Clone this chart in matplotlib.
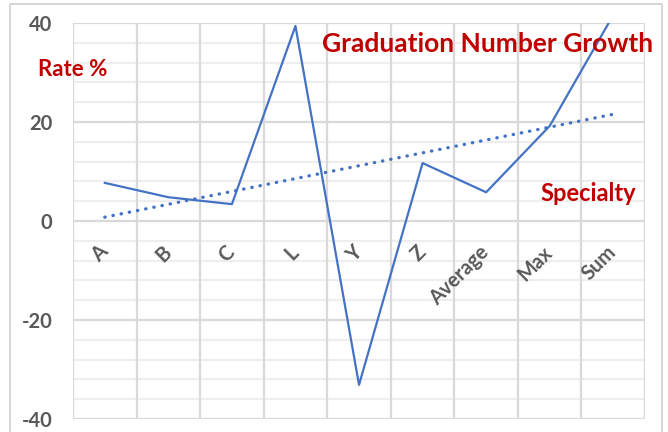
import numpy as np
import matplotlib
matplotlib.use("Agg")
import matplotlib.pyplot as plt
from matplotlib.patches import Rectangle

# rate of change per specialty, last three are summary rows
categories = ["A", "B", "C", "L", "Y", "Z", "Average", "Max", "Sum"]
rates = [7.7, 4.8, 3.4, 39.4, -33.1, 11.7, 5.8, 19.2, 41.6]

y_ticks = [-40, -20, 0, 20, 40]

RED = "#C00000"
BLUE = "#4472C4"
GRAY = "#595959"

plt.rcParams["font.family"] = ["Lato", "DejaVu Sans"]

fig = plt.figure(figsize=(6.68, 4.32), dpi=100)
ax = fig.add_axes([0.1093, 0.0301, 0.8563, 0.9167])

# outer chart-area frame
fig.patches.append(Rectangle((10 / 668, -0.05), 652 / 668, 1 - 4 / 432 + 0.05,
                             transform=fig.transFigure, fill=False,
                             edgecolor="#d0d0d0", linewidth=1.2))

x = np.arange(len(categories))
ax.set_xlim(-0.5, len(categories) - 0.5)
ax.set_ylim(-40, 40)

# gridlines: major every 20, faint minor every 4, vertical at category borders
for v in np.arange(-40, 41, 4):
    if v % 20:
        ax.axhline(v, color="#eeeeee", lw=1.6, zorder=0)
for v in y_ticks:
    ax.axhline(v, color="#d9d9d9", lw=1.6, zorder=1)
for b in np.arange(-0.5, len(categories), 1.0):
    ax.axvline(b, color="#d9d9d9", lw=1.6, zorder=1)

ax.plot(x, rates, color=BLUE, lw=1.6, zorder=3)

# linear trendline over all points
k, c = np.polyfit(x, rates, 1)
ax.plot(x, k * x + c, color=BLUE, lw=2.4, ls=(0, (0.1, 2.4)),
        dash_capstyle="round", zorder=3)

for s in ax.spines.values():
    s.set_visible(False)
ax.set_xticks([])
ax.set_yticks(y_ticks)
ax.set_yticklabels([str(t) for t in y_ticks], fontsize=14.5, color=GRAY,
                   fontweight="bold")
ax.tick_params(axis="y", length=0, pad=15)

for i, lab in enumerate(categories):
    ax.text(i + 0.11, -4.3, lab, rotation=45, ha="right", va="top",
            fontsize=14.5, color=GRAY, fontweight="bold", zorder=4)

fig.text(0.978, 0.898, "Graduation Number Growth", ha="right",
         va="center", fontsize=19, color=RED, fontweight="bold")
fig.text(0.057, 0.838, "Rate %", ha="left", va="center", fontsize=16,
         color=RED, fontweight="bold")
fig.text(0.952, 0.551, "Specialty", ha="right", va="center", fontsize=17,
         color=RED, fontweight="bold")

fig.savefig("out.png", dpi=100)
